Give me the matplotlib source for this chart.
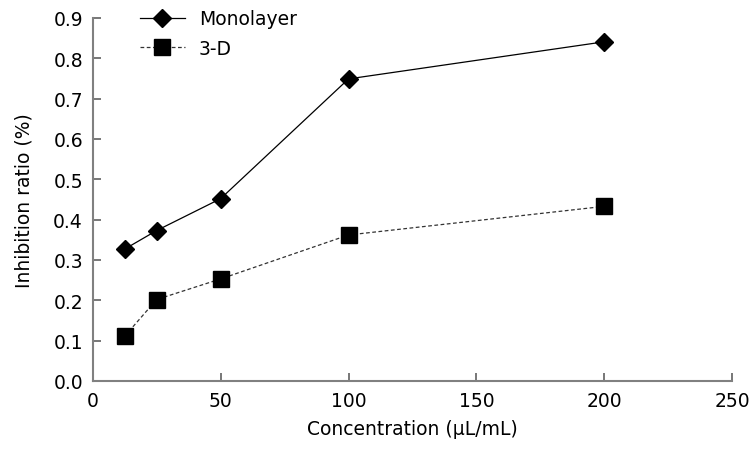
import matplotlib
matplotlib.use("Agg")
import matplotlib.pyplot as plt

conc = [12.5, 25, 50, 100, 200]
monolayer = [0.327, 0.373, 0.452, 0.749, 0.841]
three_d = [0.111, 0.202, 0.253, 0.362, 0.433]
xticks = [0, 50, 100, 150, 200, 250]
yticks = [0.0, 0.1, 0.2, 0.3, 0.4, 0.5, 0.6, 0.7, 0.8, 0.9]

plt.rcParams['font.family'] = ['DejaVu Sans']
fig = plt.figure(figsize=(7.56, 4.52), dpi=100)
ax = fig.add_axes([0.1226, 0.1549, 0.8461, 0.8031])

ax.plot(conc, monolayer, color='black', lw=0.9, marker='D', ms=9.5,
        markerfacecolor='black', markeredgecolor='black', label='Monolayer')
ax.plot(conc, three_d, color='#333333', lw=0.9, ls=(0, (3, 2)), marker='s', ms=11.3,
        markerfacecolor='black', markeredgecolor='black', label='3-D')

ax.set_xlim(0, 250)
ax.set_ylim(0, 0.9)
ax.set_xticks(xticks)
ax.set_xticklabels([str(v) for v in xticks])
ax.set_yticks(yticks)
ax.set_yticklabels([f"{v:.1f}" for v in yticks])

for s in ['top', 'right']:
    ax.spines[s].set_visible(False)
for s in ['left', 'bottom']:
    ax.spines[s].set_color('#808080')
    ax.spines[s].set_linewidth(1.5)
ax.tick_params(direction='in', length=6, width=1.2, color='#606060',
               labelsize=13.5, labelcolor='black', pad=7)

ax.set_xlabel('Concentration (μL/mL)', fontsize=13.5, labelpad=7)
ax.set_ylabel('Inhibition ratio (%)', fontsize=13.5, labelpad=14)

leg = ax.legend(loc='upper left', bbox_to_anchor=(0.047, 1.07), frameon=False,
                fontsize=13.5, handlelength=2.4, handletextpad=0.75, labelspacing=0.55)

fig.savefig('out.png', dpi=100)
